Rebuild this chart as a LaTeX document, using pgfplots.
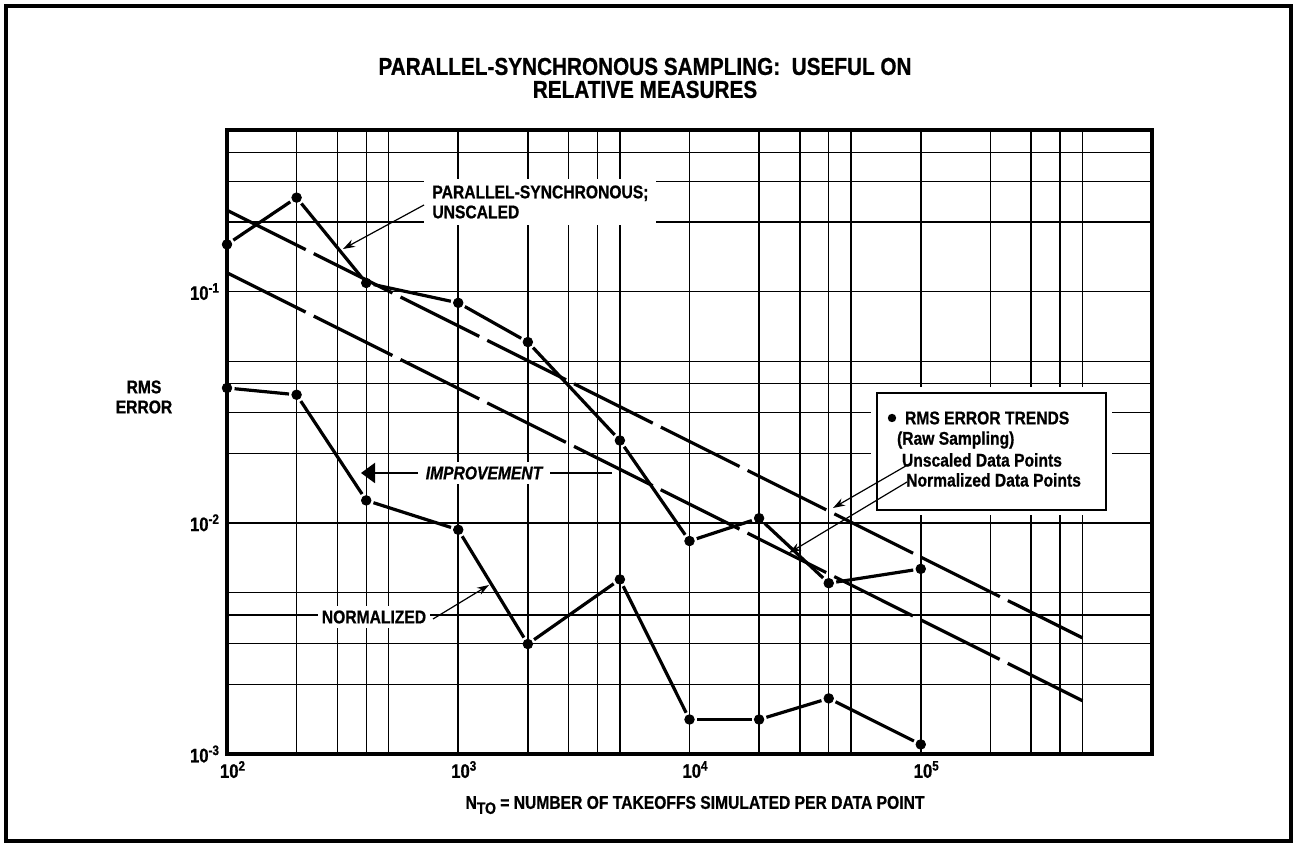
\documentclass[border=0pt]{standalone}
\usepackage{pgfplots}
\pgfplotsset{compat=1.18}
\usepackage{fontspec}
\setmainfont{Liberation Sans}[FakeStretch=0.85, BoldFeatures={FakeBold=0.8}, BoldItalicFeatures={FakeBold=0.8}]
\usetikzlibrary{arrows.meta}
\tikzset{ann/.style={font=\bfseries\fontsize{9.2}{10}\selectfont}}
\begin{document}
\begin{tikzpicture}
\path[use as bounding box] (-113.5pt,-45.5pt) rectangle (534.5pt,377pt);
\begin{axis}[
  at={(0pt,0pt)}, anchor=south west,
  scale only axis, width=462.5pt, height=312pt,
  xmode=log, ymode=log,
  xmin=100, xmax=1e6, ymin=1e-3, ymax=0.5,
  xtick={100,1000,10000,100000},
  xticklabels={10\textsuperscript{2},10\textsuperscript{3},10\textsuperscript{4},10\textsuperscript{5}},
  ytick={0.001,0.01,0.1},
  yticklabels={10\textsuperscript{-3},10\textsuperscript{-2},10\textsuperscript{-1}},
  minor xtick={200,300,400,500,2000,3000,4000,5000,20000,30000,40000,50000,200000,300000,400000,500000},
  minor ytick={0.002,0.003,0.004,0.005,0.02,0.03,0.04,0.05,0.2,0.3,0.4},
  grid=both,
  major grid style={black, line width=0.8pt},
  minor grid style={black, line width=0.7pt},
  major tick length=0pt, minor tick length=0pt,
  axis line style={line width=1.7pt},
  tick label style={font=\bfseries\fontsize{9.8}{10}\selectfont},
  xticklabel style={xshift=3pt},
  clip=false,
  seg/.style={black, line width=1.6pt, shorten >=3.8pt, shorten <=3.8pt},
  dots/.style={only marks, mark=*, mark size=2.4pt, mark options={fill=black, draw=black}},
]
% trend lines
\addplot[black, line width=1.6pt, dash pattern=on 44pt off 4.5pt] coordinates {(100,0.2248) (500000,0.00318)};
\addplot[black, line width=1.6pt, dash pattern=on 44pt off 4.5pt] coordinates {(100,0.1207) (500000,0.0017)};
% unscaled data
\addplot[seg] coordinates {(100,0.160) (200,0.255)};
\addplot[seg] coordinates {(200,0.255) (400,0.109)};
\addplot[seg] coordinates {(400,0.109) (1000,0.0894)};
\addplot[seg] coordinates {(1000,0.0894) (2000,0.0605)};
\addplot[seg] coordinates {(2000,0.0605) (5000,0.0227)};
\addplot[seg] coordinates {(5000,0.0227) (10000,0.00834)};
\addplot[seg] coordinates {(10000,0.00834) (20000,0.01047)};
\addplot[seg] coordinates {(20000,0.01047) (40000,0.00548)};
\addplot[seg] coordinates {(40000,0.00548) (100000,0.00632)};
\addplot[dots] coordinates {(100,0.160) (200,0.255) (400,0.109) (1000,0.0894) (2000,0.0605) (5000,0.0227) (10000,0.00834) (20000,0.01047) (40000,0.00548) (100000,0.00632)};
% normalized data
\addplot[seg] coordinates {(100,0.0383) (200,0.0358)};
\addplot[seg] coordinates {(200,0.0358) (400,0.0125)};
\addplot[seg] coordinates {(400,0.0125) (1000,0.00933)};
\addplot[seg] coordinates {(1000,0.00933) (2000,0.00299)};
\addplot[seg] coordinates {(2000,0.00299) (5000,0.00569)};
\addplot[seg] coordinates {(5000,0.00569) (10000,0.00141)};
\addplot[seg] coordinates {(10000,0.00141) (20000,0.00141)};
\addplot[seg] coordinates {(20000,0.00141) (40000,0.00174)};
\addplot[seg] coordinates {(40000,0.00174) (100000,0.00110)};
\addplot[dots] coordinates {(100,0.0383) (200,0.0358) (400,0.0125) (1000,0.00933) (2000,0.00299) (5000,0.00569) (10000,0.00141) (20000,0.00141) (40000,0.00174) (100000,0.00110)};
\end{axis}
\begin{scope}[shift={(-113.5pt,377pt)}, x=0.5pt, y=-0.5pt]
\draw[line width=2.4pt] (6,6) rectangle (1291,841);
\node[font=\bfseries\fontsize{12.2}{11.5}\selectfont, align=center] at (645,78) {PARALLEL-SYNCHRONOUS SAMPLING:\ \ USEFUL ON\\RELATIVE MEASURES};
\node[ann, align=center] at (144,397) {RMS\\ERROR};
\node[ann, align=left, fill=white, inner xsep=4pt, inner ysep=3pt, anchor=west] at (424,202) {PARALLEL-SYNCHRONOUS;\\UNSCALED};
\draw[line width=0.6pt, -{Stealth[length=6pt,width=4pt]}] (424,205) -- (343,249);
\node[font=\bfseries\itshape\fontsize{9.2}{10}\selectfont, fill=white, inner sep=2pt] at (484,473) {IMPROVEMENT};
\draw[line width=1pt, -{Triangle[length=7pt,width=10pt]}] (418,473) -- (361,473);
\draw[line width=1pt] (550,473) -- (612,473);
\node[ann, fill=white, inner sep=2pt] at (374,617) {NORMALIZED};
\draw[line width=0.6pt, -{Stealth[length=6pt,width=4pt]}] (433,619) -- (489,585);
\fill[white] (871,387) rectangle (1112,515);
\draw[line width=1.2pt, fill=white] (877,393) rectangle (1106,510);
\fill (892,418) circle (2.1pt);
\node[ann, anchor=west] at (898,418) {RMS ERROR TRENDS};
\node[ann, anchor=west] at (890,440) {(Raw Sampling)};
\node[ann, anchor=east] at (1069,460) {Unscaled Data Points};
\node[ann, anchor=east] at (1088,480) {Normalized Data Points};
\draw[line width=0.6pt, -{Stealth[length=6pt,width=4pt]}] (911,463) -- (833,508);
\draw[line width=0.6pt, -{Stealth[length=6pt,width=4pt]}] (907,482) -- (789,553);
\node[ann] at (695,805) {N\raisebox{-2.5pt}{\fontsize{8.2}{9}\selectfont TO} = NUMBER OF TAKEOFFS SIMULATED PER DATA POINT};
\end{scope}
\end{tikzpicture}
\end{document}
